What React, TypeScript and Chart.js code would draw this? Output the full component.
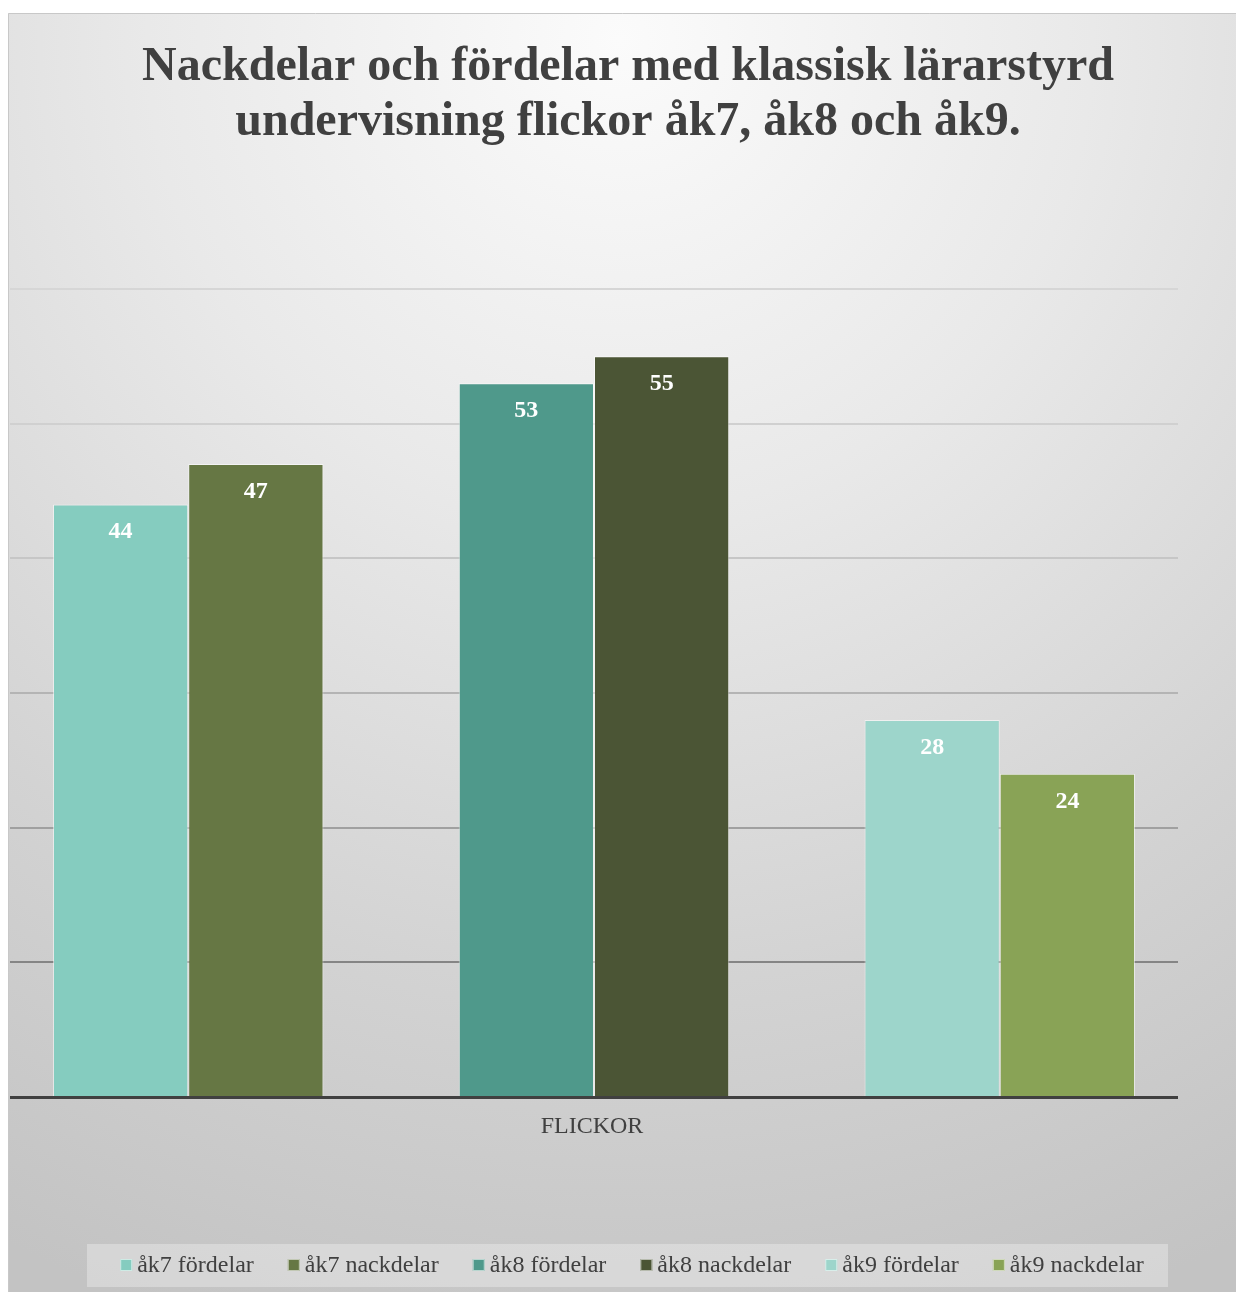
import { useEffect, useRef } from 'react';
import { Chart, registerables } from 'chart.js';

Chart.register(...registerables);

const categories = ['FLICKOR'];
const seriesLabels = ['åk7 fördelar', 'åk7 nackdelar', 'åk8 fördelar', 'åk8 nackdelar', 'åk9 fördelar', 'åk9 nackdelar'];
const seriesValues = [44, 47, 53, 55, 28, 24];
const seriesColors = ['#85ccbf', '#667744', '#4f998b', '#4b5535', '#9dd5cb', '#89a356'];
const yTicks = [0, 10, 20, 30, 40, 50, 60];
const titleLines = ['Nackdelar och fördelar med klassisk lärarstyrd', 'undervisning flickor åk7, åk8 och åk9.'];

const FONT = '"Liberation Serif", "Times New Roman", serif';
const TEXT = '#404040';

const gridColors: Record<number, string> = {
  10: '#858585',
  20: '#a0a0a0',
  30: '#b4b4b4',
  40: '#c6c6c6',
  50: '#d0d0d0',
  60: '#d6d6d6',
};

export default function App() {
  const ref = useRef<HTMLCanvasElement>(null);

  useEffect(() => {
    const canvas = ref.current!;
    const datasets: any[] = [];
    seriesLabels.forEach((lab, i) => {
      datasets.push({
        label: lab,
        data: [seriesValues[i]],
        backgroundColor: seriesColors[i],
        borderColor: 'rgba(255,255,255,0.55)',
        borderWidth: 1,
        categoryPercentage: 0.9264,
        barPercentage: 1,
      });
      if (i % 2 === 1 && i < seriesLabels.length - 1) {
        datasets.push({
          label: '',
          data: [null],
          backgroundColor: 'rgba(0,0,0,0)',
          borderWidth: 0,
          categoryPercentage: 0.9264,
          barPercentage: 1,
        });
      }
    });

    const custom = {
      id: 'custom',
      beforeDraw(chart: any) {
        const ctx = chart.ctx as CanvasRenderingContext2D;
        const W = chart.width;
        const H = chart.height;
        ctx.save();
        ctx.fillStyle = '#ffffff';
        ctx.fillRect(0, 0, W, H);
        const g = ctx.createRadialGradient(620, 40, 0, 620, 40, 1350);
        g.addColorStop(0, '#fbfbfb');
        g.addColorStop(0.35, '#e9e9e9');
        g.addColorStop(0.7, '#d3d3d3');
        g.addColorStop(1, '#c3c3c3');
        ctx.fillStyle = g;
        ctx.fillRect(8, 13, W - 8, H - 13);
        ctx.strokeStyle = '#c8c8c8';
        ctx.lineWidth = 1;
        ctx.beginPath();
        ctx.moveTo(8.5, H);
        ctx.lineTo(8.5, 13.5);
        ctx.lineTo(W, 13.5);
        ctx.stroke();
        ctx.restore();
      },
      afterDatasetsDraw(chart: any) {
        const ctx = chart.ctx as CanvasRenderingContext2D;
        const area = chart.chartArea;
        ctx.save();
        // baseline
        ctx.strokeStyle = '#404040';
        ctx.lineWidth = 3;
        ctx.beginPath();
        ctx.moveTo(area.left, area.bottom + 0.5);
        ctx.lineTo(area.right, area.bottom + 0.5);
        ctx.stroke();
        // data labels
        ctx.fillStyle = '#ffffff';
        ctx.font = `bold 24px ${FONT}`;
        ctx.textAlign = 'center';
        ctx.textBaseline = 'alphabetic';
        chart.data.datasets.forEach((ds: any, i: number) => {
          if (!ds.label) return;
          const meta = chart.getDatasetMeta(i);
          const el = meta.data[0];
          if (!el) return;
          ctx.fillText(String(ds.data[0]), el.x, el.y + 34);
        });
        ctx.restore();
      },
      afterDraw(chart: any) {
        const ctx = chart.ctx as CanvasRenderingContext2D;
        const area = chart.chartArea;
        ctx.save();
        // title
        ctx.fillStyle = TEXT;
        ctx.font = `bold 48px ${FONT}`;
        ctx.textAlign = 'center';
        ctx.textBaseline = 'alphabetic';
        ctx.fillText(titleLines[0], 628, 80);
        ctx.fillText(titleLines[1], 628, 135);
        // category label
        ctx.font = `24px ${FONT}`;
        ctx.fillText(categories[0], (area.left + area.right) / 2 - 2, 1133);
        // legend box
        ctx.fillStyle = 'rgba(255,255,255,0.3)';
        ctx.fillRect(87, 1244, 1168 - 87, 43);
        ctx.font = `24px ${FONT}`;
        ctx.textAlign = 'left';
        const widths = seriesLabels.map((l) => ctx.measureText(l).width);
        const gapText = 5;
        const gapItem = 34;
        const box = 12;
        let total = 0;
        widths.forEach((w, i) => {
          total += box + gapText + w + (i < widths.length - 1 ? gapItem : 0);
        });
        let x = 632 - total / 2;
        seriesLabels.forEach((l, i) => {
          ctx.fillStyle = seriesColors[i];
          ctx.fillRect(x, 1259, box, box);
          ctx.strokeStyle = 'rgba(255,255,255,0.6)';
          ctx.lineWidth = 1;
          ctx.strokeRect(x + 0.5, 1259.5, box - 1, box - 1);
          ctx.fillStyle = TEXT;
          ctx.fillText(l, x + box + gapText, 1272);
          x += box + gapText + widths[i] + gapItem;
        });
        ctx.restore();
      },
    };

    const chart = new Chart(canvas, {
      type: 'bar',
      data: { labels: categories, datasets },
      options: {
        responsive: false,
        animation: false,
        devicePixelRatio: 1,
        layout: { padding: { left: 10, right: 58, top: 289, bottom: 195 } },
        plugins: {
          legend: { display: false },
          tooltip: { enabled: false },
          title: { display: false },
        },
        scales: {
          x: {
            ticks: { display: false },
            grid: { display: false },
            border: { display: false },
            afterFit: (s: any) => {
              s.height = 0;
            },
          },
          y: {
            min: yTicks[0],
            max: yTicks[yTicks.length - 1],
            ticks: { display: false, stepSize: 10 },
            grid: {
              lineWidth: 2,
              drawTicks: false,
              color: (c: any) => (c.tick && gridColors[c.tick.value]) || 'rgba(0,0,0,0)',
            },
            border: { display: false },
            afterFit: (s: any) => {
              s.width = 0;
            },
          },
        },
      } as any,
      plugins: [custom],
    });
    return () => chart.destroy();
  }, []);

  return (
    <div style={{ position: 'absolute', left: 0, top: 0, width: 1236, height: 1292, overflow: 'hidden' }}>
      <canvas ref={ref} width={1236} height={1292} style={{ display: 'block' }} />
    </div>
  );
}
